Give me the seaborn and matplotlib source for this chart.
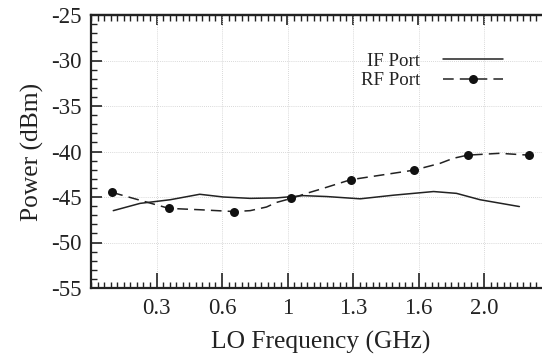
import numpy as np
import pandas as pd
import matplotlib
matplotlib.use("Agg")
import matplotlib.pyplot as plt
from matplotlib.lines import Line2D
from matplotlib.ticker import MultipleLocator, FixedLocator
import seaborn as sns

# ---- data (x in tick-position units: tick k is labelled tick_labels[k-1]) ----
tick_pos = [1, 2, 3, 4, 5, 6]
tick_labels = ["0.3", "0.6", "1", "1.3", "1.6", "2.0"]

rf_x = [0.325, 1.19, 2.19, 3.06, 3.965, 4.93, 5.75, 6.68]
rf_y = [-44.5, -46.25, -46.6, -45.15, -43.1, -42.05, -40.4, -40.4]

# dashed RF curve path
rf_path_x = [0.325, 1.19, 1.66, 2.19, 2.43, 2.68, 2.83, 3.06, 3.29, 3.5, 3.965,
             4.93, 5.33, 5.53, 5.75, 6.24, 6.68]
rf_path_y = [-44.5, -46.25, -46.4, -46.6, -46.5, -46.1, -45.6, -45.15, -44.6, -44.15, -43.1,
             -42.05, -41.3, -40.75, -40.4, -40.2, -40.4]

if_x = [0.34, 0.75, 1.21, 1.66, 2.02, 2.43, 2.83, 3.24, 3.6, 4.11, 4.62, 5.23, 5.58, 5.94, 6.54]
if_y = [-46.5, -45.7, -45.3, -44.7, -45.0, -45.15, -45.1, -44.85, -44.95, -45.2, -44.8,
        -44.4, -44.6, -45.3, -46.05]

sns.set_style("white")
plt.rcParams["font.family"] = ["Liberation Serif", "DejaVu Serif"]

fig = plt.figure(figsize=(5.42, 3.54), dpi=100)
left = 91 / 542
right_px = 91 + 7 * 65.5
bottom = 1 - 288 / 354
top = 1 - 15 / 354
ax = fig.add_axes([left, bottom, right_px / 542 - left, top - bottom])

df_if = pd.DataFrame({"x": if_x, "y": if_y})
df_rfp = pd.DataFrame({"x": rf_path_x, "y": rf_path_y})
df_rf = pd.DataFrame({"x": rf_x, "y": rf_y})

sns.lineplot(data=df_if, x="x", y="y", ax=ax, color="#222222", lw=1.1, sort=False)
sns.lineplot(data=df_rfp, x="x", y="y", ax=ax, color="#222222", lw=1.1, sort=False,
             dashes=False, linestyle=(0, (7, 4)))
sns.scatterplot(data=df_rf, x="x", y="y", ax=ax, color="#111111", s=42, edgecolor="#111111",
                linewidth=0, zorder=5)

ax.set_xlim(0, 7)
ax.set_ylim(-55, -25)
ax.xaxis.set_major_locator(FixedLocator(tick_pos))
ax.set_xticklabels(tick_labels)
ax.xaxis.set_minor_locator(MultipleLocator(0.1))
ax.yaxis.set_major_locator(MultipleLocator(5))
ax.yaxis.set_minor_locator(MultipleLocator(1))
ax.set_yticklabels([f"{int(v)}" for v in ax.get_yticks()])

ax.grid(True, which="major", linestyle=(0, (1, 1.5)), color="#cccccc", lw=0.6)
for s in ax.spines.values():
    s.set_linewidth(1.6)
    s.set_color("#222222")

ax.tick_params(axis="x", which="major", direction="in", length=11, width=1.2, colors="#222222",
               labelsize=16.5, pad=7, top=False, bottom=True)
ax.tick_params(axis="x", which="minor", direction="in", length=4.3, width=1.0, colors="#222222",
               top=False, bottom=True)
ax.tick_params(axis="y", which="major", direction="in", length=8, width=1.2, colors="#222222",
               labelsize=16.5, pad=6.5, left=True, right=False)
ax.tick_params(axis="y", which="minor", direction="in", length=4.3, width=1.0, colors="#222222",
               left=True, right=False)

sec = ax.secondary_xaxis("top")
sec.xaxis.set_major_locator(FixedLocator(tick_pos))
sec.xaxis.set_minor_locator(MultipleLocator(0.1))
sec.tick_params(axis="x", which="major", direction="in", length=7.5, width=1.2, colors="#222222",
                labeltop=False)
sec.tick_params(axis="x", which="minor", direction="in", length=4.3, width=1.0, colors="#222222")
sec.spines["top"].set_linewidth(1.6)

ax.set_xlabel("LO Frequency (GHz)", fontsize=18.4, color="#222222", labelpad=9)
ax.set_ylabel("Power (dBm)", fontsize=18.4, color="#222222", labelpad=5)

handles = [Line2D([], [], color="#222222", lw=1.1),
           Line2D([], [], color="#222222", lw=1.1, linestyle=(0, (7, 4)), marker="o",
                  markersize=6.5, markerfacecolor="#111111", markeredgewidth=0)]
fig.legend(handles, ["IF Port", "RF Port"], loc="center", bbox_to_anchor=(432 / 542, 1 - 71 / 354),
           bbox_transform=fig.transFigure, frameon=False, markerfirst=False, fontsize=13.6,
           handlelength=3.2, handletextpad=1.2, labelspacing=0.1, borderpad=0, labelcolor="#222222")

fig.savefig("out.png", dpi=100)
